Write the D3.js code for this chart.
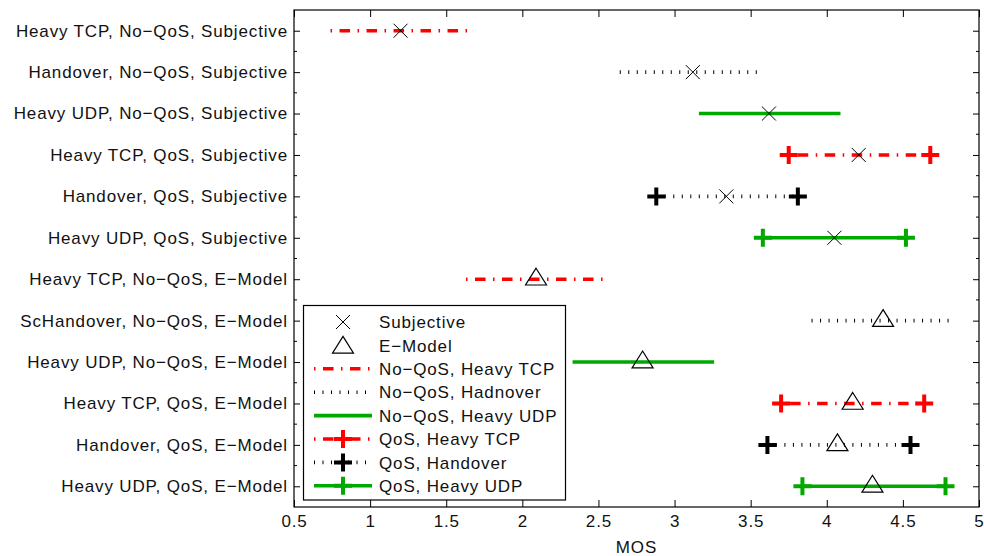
<!DOCTYPE html>
<meta charset="utf-8">
<style>
body { margin: 0; background: #fff; }
svg text { font-family: "Liberation Sans", Arial, Helvetica, sans-serif; fill: #111; font-size: 17px; letter-spacing: 0.85px; }
.axis text { font-size: 17px; }
</style>
<svg width="984" height="556"></svg>
<script src="https://d3js.org/d3.v7.min.js"></script>
<script>

////////// Data //////////
var labels = [
  "Heavy TCP, No\u2212QoS, Subjective",
  "Handover, No\u2212QoS, Subjective",
  "Heavy UDP, No\u2212QoS, Subjective",
  "Heavy TCP, QoS, Subjective",
  "Handover, QoS, Subjective",
  "Heavy UDP, QoS, Subjective",
  "Heavy TCP, No\u2212QoS, E\u2212Model",
  "ScHandover, No\u2212QoS, E\u2212Model",
  "Heavy UDP, No\u2212QoS, E\u2212Model",
  "Heavy TCP, QoS, E\u2212Model",
  "Handover, QoS, E\u2212Model",
  "Heavy UDP, QoS, E\u2212Model"
];
var means = [1.20, 3.12, 3.62, 4.21, 3.34, 4.05, 2.09, 4.37, 2.79, 4.17, 4.07, 4.30];
var lows  = [0.74, 2.64, 3.16, 3.75, 2.88, 3.58, 1.63, 3.90, 2.33, 3.70, 3.61, 3.84];
var highs = [1.64, 3.54, 4.09, 4.68, 3.81, 4.52, 2.53, 4.80, 3.26, 4.64, 4.55, 4.78];
var rowSeries = ["ntcp", "nho", "nudp", "qtcp", "qho", "qudp",
                 "ntcp", "nho", "nudp", "qtcp", "qho", "qudp"];
var rowMethod = ["subj", "subj", "subj", "subj", "subj", "subj",
                 "emod", "emod", "emod", "emod", "emod", "emod"];
var xTicks = [0.5, 1, 1.5, 2, 2.5, 3, 3.5, 4, 4.5, 5];

var legendItems = [
  {key: "subj", text: "Subjective"},
  {key: "emod", text: "E\u2212Model"},
  {key: "ntcp", text: "No\u2212QoS, Heavy TCP"},
  {key: "nho",  text: "No\u2212QoS, Hadnover"},
  {key: "nudp", text: "No\u2212QoS, Heavy UDP"},
  {key: "qtcp", text: "QoS, Heavy TCP"},
  {key: "qho",  text: "QoS, Handover"},
  {key: "qudp", text: "QoS, Heavy UDP"}
];

// line styles per series
var RED = "#ff0000", GREEN = "#00a800", BLACK = "#000";
var styles = {
  ntcp: {color: RED,   dash: "10.5,7.5,1.5,7.5", off: 18, plus: false},
  nho:  {color: BLACK, dash: "1,7.5",            off: 0,  plus: false},
  nudp: {color: GREEN, dash: null,               off: 0,  plus: false},
  qtcp: {color: RED,   dash: "10.5,7.5,1.5,7.5", off: 18, plus: true},
  qho:  {color: BLACK, dash: "1,7.5",            off: 0,  plus: true},
  qudp: {color: GREEN, dash: null,               off: 0,  plus: true}
};

////////// Layout //////////
var svg = d3.select("svg");
var pL = 294, pR = 979, pT = 10, pB = 507;

var x = d3.scaleLinear().domain([0.5, 5]).range([pL, pR]);
var y = d3.scaleLinear().domain([0.5, 12.5]).range([pT, pB]);

// minor y ticks (half positions)
var minor = d3.range(1.5, 12.5, 1);
svg.append("g").selectAll("line").data(minor).enter().append("line")
  .attr("x1", pL).attr("x2", pL + 3)
  .attr("y1", function(d) { return y(d); }).attr("y2", function(d) { return y(d); })
  .attr("stroke", "#000");
svg.append("g").selectAll("line").data(minor).enter().append("line")
  .attr("x1", pR).attr("x2", pR - 3)
  .attr("y1", function(d) { return y(d); }).attr("y2", function(d) { return y(d); })
  .attr("stroke", "#000");

// axes
svg.append("g").attr("class", "axis")
  .attr("transform", "translate(0," + pB + ")")
  .call(d3.axisBottom(x).tickValues(xTicks).tickSize(-7).tickSizeOuter(0).tickPadding(8)
    .tickFormat(function(d) { return d3.format("")(d); }));
svg.append("g").attr("transform", "translate(0," + pT + ")")
  .call(d3.axisTop(x).tickValues(xTicks).tickSize(-7).tickSizeOuter(0).tickFormat(""));

svg.append("g").attr("class", "axis")
  .attr("transform", "translate(" + pL + ",0)")
  .call(d3.axisLeft(y).tickValues(d3.range(1, 13)).tickSize(-6).tickSizeOuter(0).tickPadding(6)
    .tickFormat(function(d) { return labels[d - 1]; }));
svg.append("g").attr("transform", "translate(" + pR + ",0)")
  .call(d3.axisRight(y).tickValues(d3.range(1, 13)).tickSize(-6).tickSizeOuter(0).tickFormat(""));

svg.selectAll(".domain").remove();
svg.selectAll(".tick line").attr("stroke", "#000");
svg.selectAll(".axis text").attr("fill", "#111");

svg.append("rect")
  .attr("x", pL).attr("y", pT)
  .attr("width", pR - pL).attr("height", pB - pT)
  .attr("fill", "none").attr("stroke", "#000").attr("stroke-width", 1.2);

svg.append("text")
  .attr("x", (pL + pR) / 2).attr("y", 553)
  .attr("text-anchor", "middle")
  .text("MOS");

////////// Marker helpers //////////
function drawPlus(g, cx, cy, color) {
  g.append("path")
    .attr("d", "M" + (cx - 9) + "," + cy + "H" + (cx + 9) + "M" + cx + "," + (cy - 9) + "V" + (cy + 9))
    .attr("stroke", color).attr("stroke-width", 4).attr("fill", "none");
}
function drawCross(g, cx, cy) {
  g.append("path")
    .attr("d", "M" + (cx - 7) + "," + (cy - 7) + "L" + (cx + 7) + "," + (cy + 7) +
               "M" + (cx - 7) + "," + (cy + 7) + "L" + (cx + 7) + "," + (cy - 7))
    .attr("stroke", "#000").attr("stroke-width", 1).attr("fill", "none");
}
function drawTri(g, cx, cy) {
  g.append("path")
    .attr("d", "M" + cx + "," + (cy - 11) + "L" + (cx + 10.5) + "," + (cy + 5.8) +
               "L" + (cx - 10.5) + "," + (cy + 5.8) + "Z")
    .attr("stroke", "#000").attr("stroke-width", 1.2).attr("fill", "none");
}
function drawSeg(g, x1, x2, cy, st) {
  var l = g.append("line")
    .attr("x1", x1).attr("x2", x2).attr("y1", cy).attr("y2", cy)
    .attr("stroke", st.color).attr("stroke-width", 3.6);
  if (st.dash) l.attr("stroke-dasharray", st.dash).attr("stroke-dashoffset", st.off);
}

////////// Error bars //////////
var plot = svg.append("g");
labels.forEach(function(lab, i) {
  var cy = y(i + 1), st = styles[rowSeries[i]];
  var g = plot.append("g");
  drawSeg(g, x(lows[i]), x(highs[i]), cy, st);
  if (st.plus) {
    drawPlus(g, x(lows[i]), cy, st.color);
    drawPlus(g, x(highs[i]), cy, st.color);
  }
  if (rowMethod[i] === "subj") drawCross(g, x(means[i]), cy);
  else drawTri(g, x(means[i]), cy);
});

////////// Legend //////////
var leg = svg.append("g");
leg.append("rect")
  .attr("x", 303.5).attr("y", 305.5).attr("width", 262).attr("height", 194.5)
  .attr("fill", "#fff").attr("stroke", "#000").attr("stroke-width", 1.2);

legendItems.forEach(function(item, i) {
  var cy = 322 + i * 23.4;
  var g = leg.append("g");
  if (item.key === "subj") drawCross(g, 343, cy);
  else if (item.key === "emod") drawTri(g, 343, cy + 2);
  else {
    var st = styles[item.key];
    drawSeg(g, 314, 372, cy, st);
    if (st.plus) drawPlus(g, 343, cy, st.color);
  }
  g.append("text")
    .attr("x", 379).attr("y", cy).attr("dy", "0.36em")
    .text(item.text);
});

</script>
